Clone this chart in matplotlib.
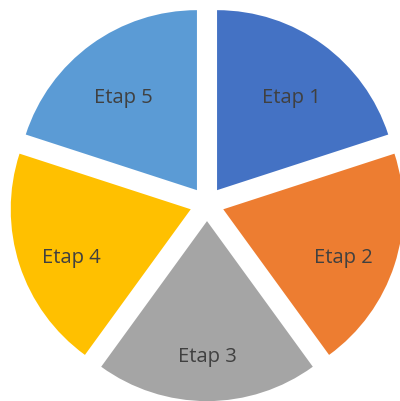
import matplotlib
matplotlib.use("Agg")
import matplotlib.pyplot as plt

labels = ["Etap 1", "Etap 2", "Etap 3", "Etap 4", "Etap 5"]
values = [1, 1, 1, 1, 1]
colors = ["#4472C4", "#ED7D31", "#A5A5A5", "#FFC000", "#5B9BD5"]
explode = [0.095] * 5

fig = plt.figure(figsize=(4.0, 4.01), dpi=100)
ax = fig.add_axes([0, 0, 1, 1])

wedges, texts = ax.pie(values, labels=labels, colors=colors, explode=explode,
                       startangle=90, counterclock=False, labeldistance=0.7,
                       textprops={"fontsize": 14.5, "color": "#404040",
                                  "family": "Open Sans"})
# nudge the labels a little below the wedge centroids
for t in texts:
    x, y = t.get_position()
    t.set_position((x, y - 0.055))
    t.set_ha("center")
    t.set_va("center")

ax.set_xlim(-207 / 180, 193 / 180)
ax.set_ylim(-197 / 180, 204 / 180)
ax.set_aspect("equal")
ax.axis("off")

fig.savefig("out.png", dpi=100, facecolor="white")
